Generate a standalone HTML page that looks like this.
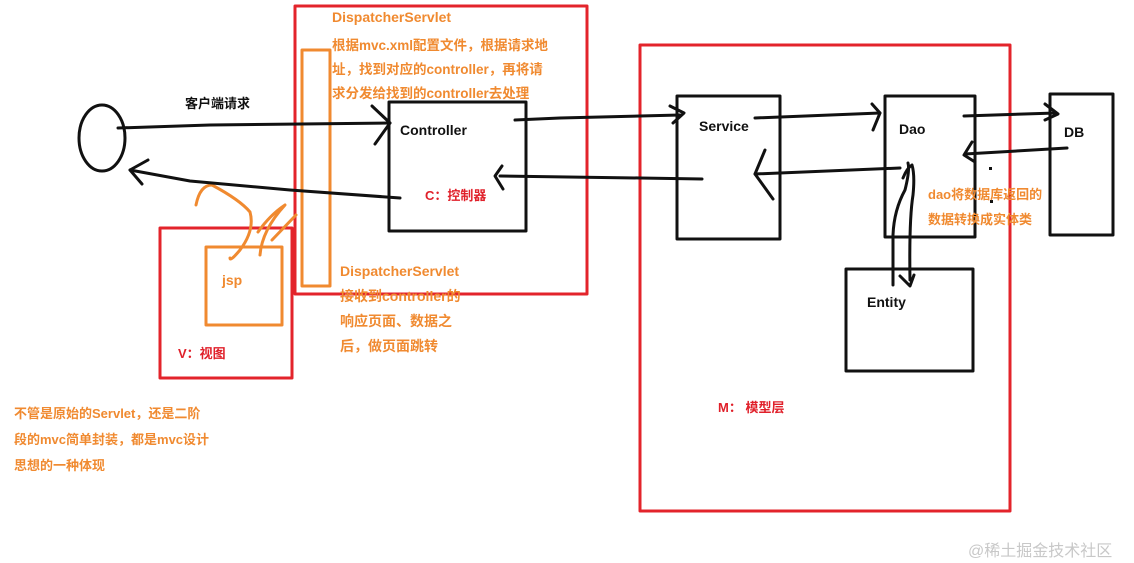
<!DOCTYPE html>
<html><head><meta charset="utf-8"><style>
html,body{margin:0;padding:0;background:#fff;}
#c{position:relative;width:1134px;height:563px;overflow:hidden;font-family:"Liberation Sans","Noto Sans CJK SC",sans-serif;font-weight:bold;font-size:13px;}
.t{position:absolute;white-space:nowrap;}
.o{color:#f08a30;}
.r{color:#e0202a;}
.k{color:#111;}
</style></head><body><div id="c">
<svg width="1134" height="563" style="position:absolute;left:0;top:0" fill="none" stroke-linecap="round" stroke-linejoin="round">
<g stroke="#e3242b" stroke-width="3">
<rect x="295" y="6" width="292" height="288"/>
<rect x="640" y="45" width="370" height="466"/>
<rect x="160" y="228" width="132" height="150"/>
</g>
<g stroke="#f08a30" stroke-width="3">
<rect x="302" y="50" width="28" height="236"/>
<rect x="206" y="247" width="76" height="78"/>
<path d="M196 205 Q200 185 212 185 Q240 200 250 212 Q255 230 240 250 Q230 262 230 258"/>
<path d="M258 232 Q270 215 285 205 Q262 230 260 255"/>
<path d="M296 215 L272 240"/>
</g>
<g stroke="#111" stroke-width="3">
<ellipse cx="102" cy="138" rx="23" ry="33"/>
<rect x="389" y="102" width="137" height="129"/>
<rect x="677" y="96" width="103" height="143"/>
<rect x="885" y="96" width="90" height="141"/>
<rect x="1050" y="94" width="63" height="141"/>
<rect x="846" y="269" width="127" height="102"/>
<path d="M118 128 L210 125 L390 123"/>
<path d="M372 106 L390 123 L375 144"/>
<path d="M400 198 L290 190 L190 181 L130 170"/>
<path d="M148 160 L130 170 L142 184"/>
<path d="M515 120 L560 118 L640 116 L680 115"/>
<path d="M670 106 L684 113 L673 123"/>
<path d="M702 179 L640 178 L500 176"/>
<path d="M502 166 L495 176 L503 189"/>
<path d="M755 118 L880 113"/>
<path d="M872 104 L880 113 L873 130"/>
<path d="M900 168 L755 174"/>
<path d="M765 150 L755 174 L773 199"/>
<path d="M964 116 L1056 113"/>
<path d="M1045 104 L1058 114 L1045 120"/>
<path d="M1067 148 L965 154"/>
<path d="M972 142 L964 155 L975 162"/>
<path d="M893 285 L893 235 Q894 210 905 190 Q910 170 908 163"/>
<path d="M903 178 Q907 168 912 165 Q915 175 913 195 Q909 220 910 280"/>
<path d="M900 276 L910 286 L914 275"/>
</g>
<g fill="#111" stroke="none"><rect x="989" y="167" width="3" height="3"/><rect x="990" y="200" width="3" height="3"/></g>
</svg>
<div class="t o" style="left:332px;top:9px;font-size:14px">DispatcherServlet</div>
<div class="t o" style="left:332px;top:34px;line-height:24px;font-size:13.5px">根据mvc.xml配置文件，根据请求地<br>址，找到对应的controller，再将请<br>求分发给找到的controller去处理</div>
<div class="t k" style="left:185px;top:93px">客户端请求</div>
<div class="t k" style="left:400px;top:122px;font-size:14px">Controller</div>
<div class="t r" style="left:425px;top:185px">C：控制器</div>
<div class="t k" style="left:699px;top:118px;font-size:14px">Service</div>
<div class="t k" style="left:899px;top:121px;font-size:14px">Dao</div>
<div class="t k" style="left:1064px;top:124px;font-size:14px">DB</div>
<div class="t k" style="left:867px;top:294px;font-size:14px">Entity</div>
<div class="t o" style="left:928px;top:182px;line-height:25px">dao将数据库返回的<br>数据转换成实体类</div>
<div class="t o" style="left:340px;top:259px;line-height:25px;font-size:14px">DispatcherServlet<br>接收到controller的<br>响应页面、数据之<br>后，做页面跳转</div>
<div class="t o" style="left:222px;top:272px;font-size:14px">jsp</div>
<div class="t r" style="left:178px;top:343px">V：视图</div>
<div class="t r" style="left:718px;top:397px">M： 模型层</div>
<div class="t o" style="left:14px;top:401px;line-height:26px;font-size:13px">不管是原始的Servlet，还是二阶<br>段的mvc简单封装，都是mvc设计<br>思想的一种体现</div>
<div class="t" style="left:968px;top:537px;color:#c8c8c8;font-weight:normal;font-size:16px">@稀土掘金技术社区</div>
</div></body></html>
